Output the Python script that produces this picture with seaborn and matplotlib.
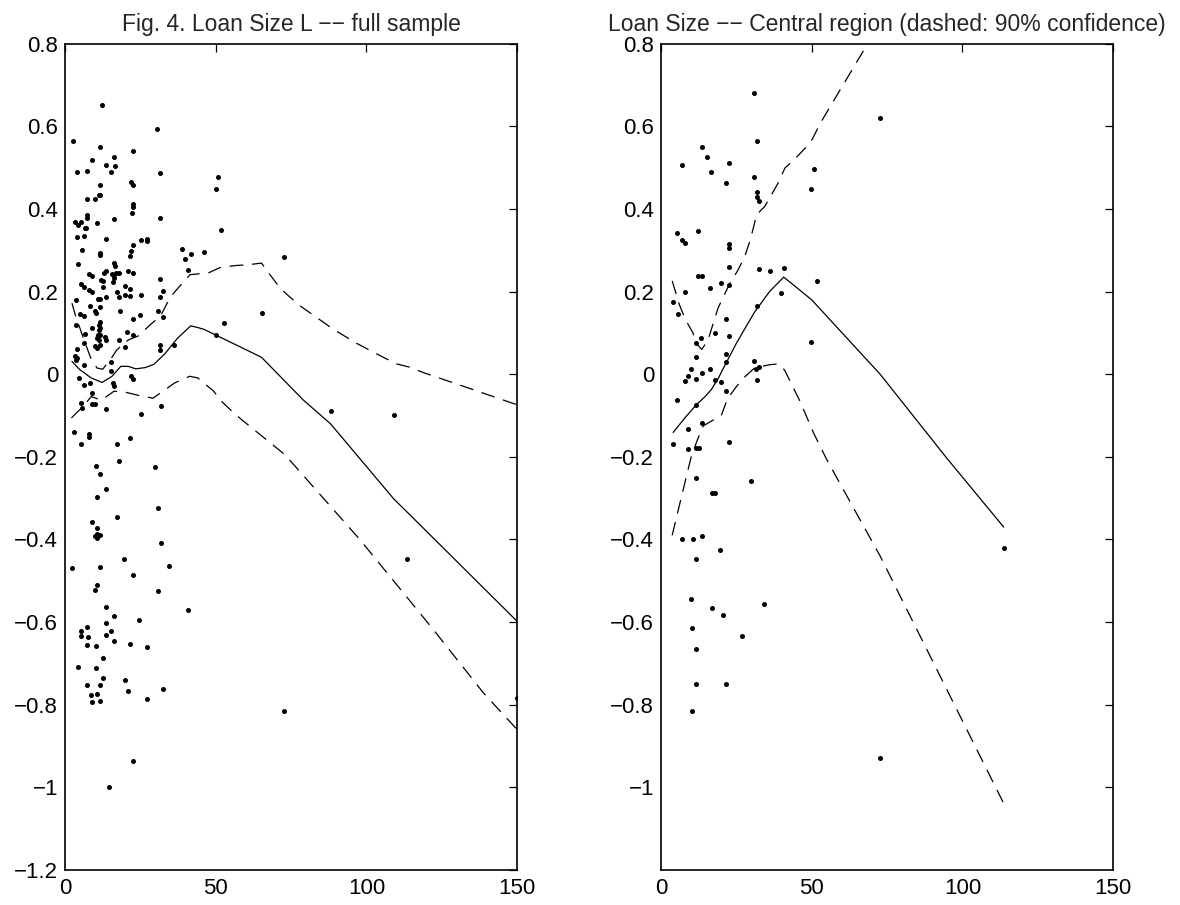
import numpy as np
import pandas as pd
import matplotlib
matplotlib.use("Agg")
import matplotlib.pyplot as plt
import seaborn as sns

# ---------------- data ----------------
left_title = "Fig. 4. Loan Size L −− full sample"
right_title = "Loan Size −− Central region (dashed: 90% confidence)"

xticks = [0, 50, 100, 150]
left_yticks = [-1.2, -1.0, -0.8, -0.6, -0.4, -0.2, 0.0, 0.2, 0.4, 0.6, 0.8]
right_yticks = [-1.0, -0.8, -0.6, -0.4, -0.2, 0.0, 0.2, 0.4, 0.6, 0.8]

left_x = [12.4, 2.5, 30.6, 11.6, 22.7, 9.0, 16.3, 13.6, 16.5, 4.1, 7.2, 15.4, 31.6, 21.8, 22.7, 11.6,
          11.2, 11.7, 9.8, 7.2, 22.7, 22.7, 22.3, 16.4, 31.6, 7.2, 7.2, 3.2, 4.4, 5.4, 10.5, 7.1,
          6.5, 4.1, 6.2, 13.6, 25.3, 27.2, 27.1, 22.7, 5.7, 21.8, 21.7, 11.7, 11.7, 38.9, 41.7, 39.9,
          40.8, 4.4, 16.4, 16.7, 13.6, 12.8, 17.0, 18.0, 15.6, 16.4, 20.8, 22.7, 8.0, 8.9, 16.3, 16.0,
          11.8, 12.5, 31.6, 5.4, 6.3, 12.6, 19.8, 17.3, 8.0, 9.0, 21.6, 32.6, 31.6, 19.8, 21.6, 18.0,
          25.3, 13.5, 10.8, 11.6, 3.5, 8.3, 11.7, 9.8, 18.1, 30.7, 4.9, 6.3, 10.2, 32.6, 22.7, 24.9,
          3.5, 11.7, 11.4, 9.1, 11.7, 11.4, 20.7, 22.7, 6.7, 10.9, 11.7, 13.2, 13.7, 10.6, 11.3, 18.0,
          6.3, 9.8, 10.7, 11.5, 19.8, 31.6, 31.6, 36.2, 4.1, 3.3, 4.0, 3.5, 6.2, 15.4,
          15.4, 4.5, 21.8, 22.7, 6.4, 8.2, 16.0, 16.3, 9.1, 5.4, 5.5, 9.1, 10.1, 13.6, 31.8, 25.3,
          3.1, 7.8, 8.0, 5.4, 17.1, 21.7, 18.0, 10.4, 29.9, 11.7, 13.6, 10.7, 30.7, 17.1, 9.1, 10.7,
          10.6, 11.7, 9.95, 10.7, 31.7, 2.2, 19.5, 11.7, 34.4, 22.7, 10.7, 9.8, 30.7, 13.6, 40.8, 16.3,
          24.4, 13.6, 7.2, 5.3, 15.3, 5.3, 7.6, 13.6, 16.3, 21.7, 7.2, 10.4, 27.1,
          12.6, 4.4, 10.4, 12.6, 7.2, 11.7, 19.8, 8.5, 10.7, 20.8, 32.5, 9.0, 11.7, 27.1, 22.7, 14.7,
          51.7, 50.9, 50.0, 46.2, 72.7, 65.5, 52.6, 50.0, 88.1, 109.1, 113.6, 72.7, 150.0]
left_y = [0.652, 0.565, 0.594, 0.549, 0.540, 0.519, 0.525, 0.507, 0.505, 0.490, 0.492, 0.489, 0.488, 0.465, 0.458, 0.457,
          0.434, 0.435, 0.424, 0.425, 0.411, 0.405, 0.390, 0.375, 0.378, 0.386, 0.378, 0.368, 0.362, 0.369, 0.365, 0.355,
          0.353, 0.332, 0.334, 0.328, 0.324, 0.327, 0.322, 0.313, 0.300, 0.299, 0.287, 0.294, 0.289, 0.303, 0.292, 0.280,
          0.253, 0.266, 0.269, 0.262, 0.249, 0.246, 0.246, 0.246, 0.242, 0.240, 0.251, 0.245, 0.242, 0.237, 0.234, 0.224,
          0.229, 0.226, 0.231, 0.219, 0.212, 0.212, 0.214, 0.200, 0.204, 0.199, 0.206, 0.202, 0.187, 0.191, 0.190, 0.186,
          0.192, 0.187, 0.183, 0.183, 0.179, 0.164, 0.163, 0.153, 0.153, 0.152, 0.146, 0.140, 0.148, 0.138, 0.133, 0.143,
          0.119, 0.127, 0.120, 0.111, 0.112, 0.106, 0.102, 0.094, 0.097, 0.094, 0.095, 0.091, 0.083, 0.087, 0.082, 0.083,
          0.075, 0.069, 0.063, 0.070, 0.067, 0.071, 0.059, 0.070, 0.062, 0.045, 0.040, 0.035, 0.022, 0.029,
          0.008, -0.008, -0.005, -0.011, -0.026, -0.022, -0.021, -0.028, -0.045, -0.070, -0.081, -0.073, -0.071, -0.084, -0.076, -0.096,
          -0.139, -0.145, -0.152, -0.168, -0.170, -0.155, -0.211, -0.221, -0.224, -0.241, -0.278, -0.297, -0.324, -0.346, -0.358, -0.373,
          -0.386, -0.388, -0.392, -0.396, -0.408, -0.469, -0.447, -0.466, -0.465, -0.487, -0.509, -0.522, -0.525, -0.563, -0.570, -0.586,
          -0.594, -0.603, -0.612, -0.621, -0.621, -0.633, -0.635, -0.631, -0.646, -0.653, -0.655, -0.659, -0.661,
          -0.686, -0.708, -0.712, -0.735, -0.753, -0.753, -0.741, -0.776, -0.774, -0.767, -0.761, -0.794, -0.792, -0.786, -0.937, -0.999,
          0.350, 0.478, 0.449, 0.296, 0.283, 0.147, 0.125, 0.095, -0.089, -0.098, -0.447, -0.816, -0.783]

left_fit_x = [2.3, 4.9, 8.7, 12.3, 15.6, 18.5, 21.0, 23.5, 26.6, 29.5, 33.2, 37.3, 41.7, 43.5, 46.0, 50.0,
              65.2, 79.0, 88.1, 109.1, 114.4, 150.0]
left_fit_y = [0.031, 0.011, -0.009, -0.020, -0.005, 0.019, 0.019, 0.013, 0.016, 0.024, 0.050, 0.087, 0.117, 0.114, 0.109, 0.095,
              0.041, -0.062, -0.120, -0.302, -0.340, -0.598]
left_up_x = [2.3, 3.4, 5.1, 6.5, 8.5, 10.6, 12.5, 15.4, 17.2, 21.0, 24.4, 28.3, 31.6, 34.2, 36.0, 39.4, 41.5,
             47.5, 51.4, 56.4, 60.8, 65.2, 68.0, 71.3, 74.1, 77.9, 89.0, 96.7, 105.6, 110.0, 114.4, 118.9, 132.1, 150.0]
left_up_y = [0.172, 0.144, 0.108, 0.079, 0.040, 0.015, 0.012, 0.039, 0.059, 0.083, 0.093, 0.120, 0.140, 0.176, 0.196, 0.224, 0.241,
             0.245, 0.258, 0.263, 0.265, 0.269, 0.241, 0.209, 0.190, 0.166, 0.109, 0.075, 0.041, 0.025, 0.017, 0.004, -0.029, -0.074]
left_lo_x = [2.1, 6.0, 8.7, 12.0, 16.3, 20.3, 24.8, 29.2, 33.1, 36.4, 41.4, 44.1, 45.3, 49.2, 52.0, 55.3, 58.6,
             73.0, 85.7, 97.8, 110.0, 122.2, 138.8, 150.0]
left_lo_y = [-0.106, -0.078, -0.054, -0.063, -0.041, -0.044, -0.052, -0.058, -0.038, -0.021, -0.005, -0.009, -0.017, -0.040, -0.066, -0.089, -0.110,
             -0.195, -0.300, -0.400, -0.509, -0.618, -0.771, -0.860]

right_x = [30.7, 31.7, 13.5, 15.3, 7.1, 22.6, 16.7, 30.7, 21.7, 31.7, 31.7, 32.6, 5.3, 12.3, 7.1, 8.1,
           22.6, 22.4, 22.6, 32.6, 36.2, 40.7, 12.4, 13.6, 19.8, 16.3, 22.5, 8.1, 39.7, 4.0, 5.6, 31.7,
           21.6, 17.9, 13.4, 22.6, 11.5, 21.6, 11.5, 21.6, 30.7, 32.4, 9.85, 16.2,
           8.96, 8.1, 11.6, 13.5, 18.0, 19.8, 21.6, 31.7, 31.6,
           5.3, 11.6, 13.5, 8.96, 22.6, 4.0, 8.96, 11.6, 12.5, 11.6, 29.8, 17.0, 18.0, 7.1, 10.7, 13.5,
           19.4, 11.6, 9.85, 17.0, 34.3, 20.7, 10.3, 27.0, 11.6, 11.6, 21.6, 10.3,
           72.7, 50.8, 49.9, 51.7, 49.9, 113.7, 72.7]
right_y = [0.680, 0.565, 0.549, 0.526, 0.507, 0.511, 0.490, 0.478, 0.464, 0.441, 0.428, 0.420, 0.343, 0.347, 0.325, 0.317,
           0.316, 0.305, 0.260, 0.254, 0.250, 0.258, 0.237, 0.237, 0.220, 0.208, 0.215, 0.199, 0.197, 0.176, 0.145, 0.166,
           0.134, 0.100, 0.088, 0.092, 0.075, 0.050, 0.042, 0.030, 0.032, 0.017, 0.013, 0.013,
           -0.005, -0.017, -0.011, 0.002, -0.013, -0.020, -0.040, -0.015, 0.013,
           -0.062, -0.074, -0.118, -0.132, -0.165, -0.170, -0.181, -0.178, -0.178, -0.251, -0.258, -0.287, -0.287, -0.398, -0.399, -0.391,
           -0.425, -0.447, -0.545, -0.566, -0.556, -0.582, -0.614, -0.634, -0.665, -0.749, -0.751, -0.815,
           0.620, 0.497, 0.449, 0.225, 0.079, -0.420, -0.929]

right_fit_x = [4.0, 8.0, 11.7, 14.5, 16.7, 19.0, 20.5, 25.0, 31.0, 36.0, 40.7, 46.15, 50.0, 72.7, 94.8, 113.7]
right_fit_y = [-0.141, -0.105, -0.074, -0.055, -0.037, -0.010, 0.012, 0.075, 0.150, 0.200, 0.235, 0.203, 0.180, 0.000, -0.203, -0.370]
right_up_x = [3.7, 6.0, 8.1, 10.6, 11.7, 13.5, 15.6, 18.9, 22.5, 25.6, 27.8, 29.4, 30.5, 31.7, 34.4, 36.6, 38.8,
              41.1, 44.4, 47.8, 50.2, 52.8, 68.3, 72.7]
right_up_y = [0.226, 0.170, 0.132, 0.100, 0.075, 0.060, 0.083, 0.160, 0.215, 0.253, 0.285, 0.321, 0.350, 0.386, 0.406, 0.434, 0.462,
              0.499, 0.521, 0.547, 0.569, 0.607, 0.797, 0.860]
right_lo_x = [3.7, 6.0, 8.0, 10.0, 12.0, 14.0, 18.0, 20.0, 22.0, 25.0, 28.0, 31.0, 36.0, 39.0, 41.0, 46.15, 50.6, 55.0, 72.7, 113.7]
right_lo_y = [-0.390, -0.320, -0.260, -0.200, -0.160, -0.125, -0.108, -0.100, -0.060, -0.030, -0.005, 0.015, 0.023, 0.025, 0.010,
              -0.066, -0.142, -0.207, -0.440, -1.039]

# ---------------- style ----------------
sns.set_style("white")
plt.rcParams["font.family"] = ["Liberation Sans", "DejaVu Sans"]
plt.rcParams["axes.unicode_minus"] = True

fig = plt.figure(figsize=(11.8, 9.05), dpi=100)
ax_l = fig.add_axes([0.0551, 0.0387, 0.3831, 0.9130])
ax_r = fig.add_axes([0.5602, 0.0387, 0.3831, 0.9130])


def fmt(v):
    s = f"{v:g}"
    return s.replace("-", "\u2212")


def draw(ax, sx, sy, fx, fy, ux, uy, lx, ly, yticks, title):
    sns.scatterplot(x=sx, y=sy, ax=ax, color="black", s=13, linewidth=0, legend=False, zorder=3)
    sns.lineplot(x=fx, y=fy, ax=ax, sort=False, estimator=None, color="black", lw=0.9)
    sns.lineplot(x=ux, y=uy, ax=ax, sort=False, estimator=None, color="black", lw=0.9,
                 linestyle=(0, (11, 7)))
    sns.lineplot(x=lx, y=ly, ax=ax, sort=False, estimator=None, color="black", lw=0.9,
                 linestyle=(0, (11, 7)))
    ax.set_xlim(0, 150)
    ax.set_ylim(-1.2, 0.8)
    ax.set_xticks(xticks)
    ax.set_xticklabels([fmt(v) for v in xticks])
    ax.set_yticks(yticks)
    ax.set_yticklabels([fmt(round(v, 1)) for v in yticks])
    ax.tick_params(direction="in", top=True, right=True, length=5.5, width=0.9,
                   labelsize=16, color="black", labelcolor="black")
    ax.tick_params(axis="y", pad=5)
    ax.tick_params(axis="x", pad=6)
    for sp in ax.spines.values():
        sp.set_visible(True)
        sp.set_color("black")
        sp.set_linewidth(1.2)
    ax.set_xlabel("")
    ax.set_ylabel("")
    ax.set_title(title, fontsize=16.5, pad=9)


draw(ax_l, left_x, left_y, left_fit_x, left_fit_y, left_up_x, left_up_y, left_lo_x, left_lo_y,
     left_yticks, left_title)
draw(ax_r, right_x, right_y, right_fit_x, right_fit_y, right_up_x, right_up_y, right_lo_x, right_lo_y,
     right_yticks, right_title)

fig.savefig("out.png", dpi=100, facecolor="white")
